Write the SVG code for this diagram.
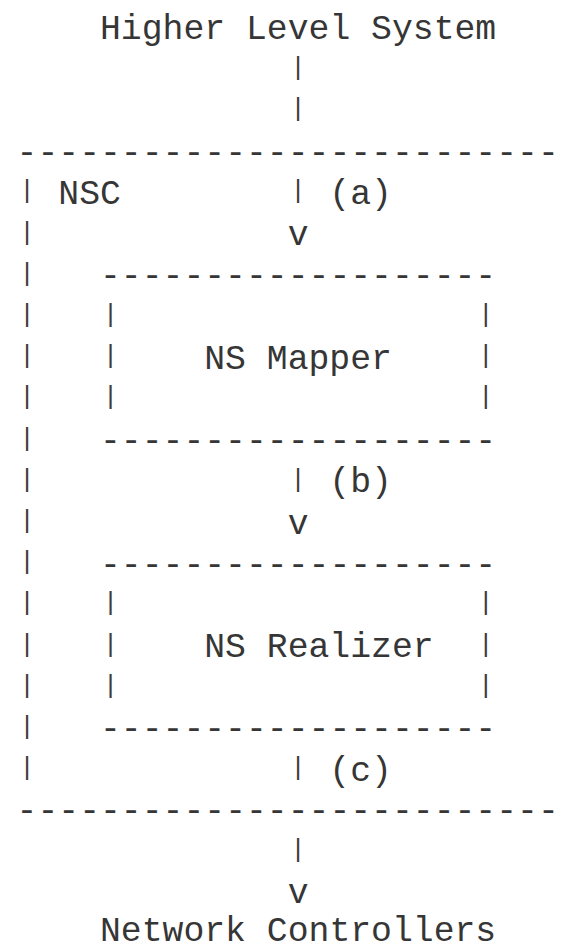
<svg xmlns="http://www.w3.org/2000/svg" width="562" height="952" viewBox="0 0 562 952">
<style>
.t{font-family:"Liberation Mono","DejaVu Sans Mono",monospace;font-size:34.75px;fill:#363636;}
.b{font-family:"Liberation Mono","DejaVu Sans Mono",monospace;font-size:26px;fill:#3c3c3c;text-anchor:middle;}
</style>
<rect x="0" y="0" width="562" height="952" fill="#ffffff"/>
<g id="higher-level-system">
<text class="t" x="100" y="39">Higher Level System</text>
</g>
<g id="nsc">
<text class="t" x="16.6" y="162.6">--------------------------</text>
<text class="b" x="27.03" y="198.3">|</text>
<text class="t" x="58.3" y="203.8">NSC</text>
<text class="b" x="27.03" y="239.5">|</text>
<text class="b" x="27.03" y="280.7">|</text>
<text class="b" x="27.03" y="321.9">|</text>
<text class="b" x="27.03" y="363.1">|</text>
<text class="b" x="27.03" y="404.3">|</text>
<text class="b" x="27.03" y="445.5">|</text>
<text class="b" x="27.03" y="486.7">|</text>
<text class="b" x="27.03" y="527.9">|</text>
<text class="b" x="27.03" y="569.1">|</text>
<text class="b" x="27.03" y="610.3">|</text>
<text class="b" x="27.03" y="651.5">|</text>
<text class="b" x="27.03" y="692.7">|</text>
<text class="b" x="27.03" y="733.9">|</text>
<text class="b" x="27.03" y="775.1">|</text>
<text class="t" x="16.6" y="821.4">--------------------------</text>
</g>
<g id="ns-mapper">
<text class="t" x="100" y="286.2">-------------------</text>
<text class="b" x="110.43" y="321.9">|</text>
<text class="b" x="485.73" y="321.9">|</text>
<text class="b" x="110.43" y="363.1">|</text>
<text class="t" x="204.25" y="368.6">NS Mapper</text>
<text class="b" x="485.73" y="363.1">|</text>
<text class="b" x="110.43" y="404.3">|</text>
<text class="b" x="485.73" y="404.3">|</text>
<text class="t" x="100" y="451">-------------------</text>
</g>
<g id="ns-realizer">
<text class="t" x="100" y="574.6">-------------------</text>
<text class="b" x="110.43" y="610.3">|</text>
<text class="b" x="485.73" y="610.3">|</text>
<text class="b" x="110.43" y="651.5">|</text>
<text class="t" x="204.25" y="657">NS Realizer</text>
<text class="b" x="485.73" y="651.5">|</text>
<text class="b" x="110.43" y="692.7">|</text>
<text class="b" x="485.73" y="692.7">|</text>
<text class="t" x="100" y="739.4">-------------------</text>
</g>
<g id="network-controllers">
<text class="t" x="100" y="941">Network Controllers</text>
</g>
<g id="connectors">
<text class="b" x="298.08" y="74.7">|</text>
<text class="b" x="298.08" y="115.9">|</text>
<text class="b" x="298.08" y="198.3">|</text>
<text class="t" x="329.35" y="203.8">(a)</text>
<text class="t" x="287.65" y="245">v</text>
<text class="b" x="298.08" y="486.7">|</text>
<text class="t" x="329.35" y="492.4">(b)</text>
<text class="t" x="287.65" y="533.6">v</text>
<text class="b" x="298.08" y="775.1">|</text>
<text class="t" x="329.35" y="780.6">(c)</text>
<text class="b" x="298.08" y="857.3">|</text>
<text class="t" x="287.65" y="902.5">v</text>
</g>
</svg>
